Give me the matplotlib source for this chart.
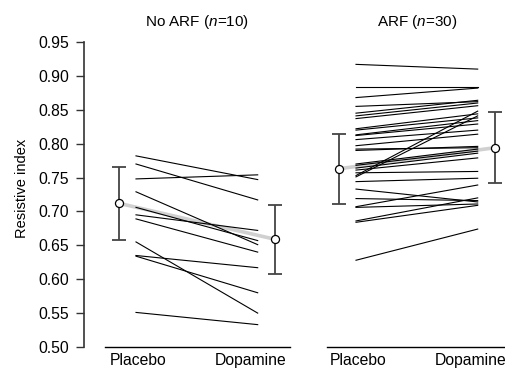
import numpy as np
import matplotlib
matplotlib.use("Agg")
from matplotlib import pyplot as plt

plt.rcParams['font.family'] = ['Liberation Sans', 'DejaVu Sans']
plt.rcParams['mathtext.fontset'] = 'custom'
plt.rcParams['mathtext.rm'] = 'Liberation Sans'
plt.rcParams['mathtext.it'] = 'Liberation Sans:italic'

conditions = ['Placebo', 'Dopamine']
titles = ['No ARF ($n$=10)', 'ARF ($n$=30)']

# individual patients, placebo -> dopamine
noarf_placebo = [0.782, 0.770, 0.748, 0.729, 0.706, 0.695, 0.689, 0.655, 0.635, 0.634, 0.551]
noarf_dopamine = [0.747, 0.717, 0.754, 0.651, 0.657, 0.672, 0.640, 0.550, 0.617, 0.580, 0.533]

arf_placebo = [0.917, 0.883, 0.868, 0.855, 0.845, 0.841, 0.837, 0.822, 0.820, 0.813,
               0.812, 0.806, 0.797, 0.792, 0.790, 0.770, 0.768, 0.764, 0.761, 0.757,
               0.753, 0.751, 0.744, 0.733, 0.719, 0.707, 0.706, 0.686, 0.684, 0.628]
arf_dopamine = [0.910, 0.883, 0.882, 0.862, 0.864, 0.860, 0.856, 0.844, 0.838, 0.834,
                0.829, 0.820, 0.814, 0.794, 0.796, 0.792, 0.789, 0.786, 0.779, 0.759,
                0.848, 0.841, 0.749, 0.714, 0.716, 0.739, 0.711, 0.720, 0.709, 0.674]

# group mean +/- sd
noarf_mean = [0.712, 0.659]
noarf_sd = [0.054, 0.051]
arf_mean = [0.763, 0.794]
arf_sd = [0.052, 0.052]

W, H = 506, 370
fig = plt.figure(figsize=(W / 100, H / 100), dpi=100)

scale = 121.7  # px per x unit
y_bot, y_top = 347, 42
panels = [
    dict(x0=136, left=84.3, right=290, spine_start=-0.255,
         pre=noarf_placebo, post=noarf_dopamine, m=noarf_mean, s=noarf_sd, yaxis=True),
    dict(x0=356, left=326.8, right=506, spine_start=-0.24,
         pre=arf_placebo, post=arf_dopamine, m=arf_mean, s=arf_sd, yaxis=False),
]

for i, p in enumerate(panels):
    ax = fig.add_axes([p['left'] / W, (H - y_bot) / H,
                       (p['right'] - p['left']) / W, (y_bot - y_top) / H])
    xl = (p['left'] - p['x0']) / scale
    xr = (p['right'] - p['x0']) / scale
    ax.set_xlim(xl, xr)
    ax.set_ylim(0.50, 0.95)

    ex = [-0.14, 1.14]
    ax.plot(ex, p['m'], color='#d0d0d0', lw=2.6, zorder=1, solid_capstyle='butt')
    for a, b in zip(p['pre'], p['post']):
        ax.plot([0, 1], [a, b], color='black', lw=0.8, zorder=2)
    ax.errorbar(ex, p['m'], yerr=p['s'], fmt='none', ecolor='#444444',
                elinewidth=1.3, capsize=5, capthick=1.3, zorder=3)
    ax.plot(ex, p['m'], 'o', ms=5.8, mfc='white', mec='black', mew=0.9, zorder=4)

    ax.set_xticks([0.02, 0.94])
    ax.set_xticklabels(conditions, fontsize=11.3)
    ax.tick_params(axis='x', length=0, pad=4)
    for sp in ['top', 'right']:
        ax.spines[sp].set_visible(False)
    ax.spines['bottom'].set_bounds(p['spine_start'], xr)
    ax.spines['bottom'].set_linewidth(1.0)

    if p['yaxis']:
        yt = np.arange(0.50, 0.951, 0.05)
        ax.set_yticks(yt)
        ax.set_yticklabels(['%.2f' % v for v in yt], fontsize=11.3)
        ax.tick_params(axis='y', length=6, width=1.0, color='#333333', pad=5)
        ax.spines['left'].set_color('#333333')
        ax.spines['left'].set_linewidth(1.2)
        ax.set_ylabel('Resistive index', fontsize=10.5)
        ax.yaxis.set_label_coords(-0.27, 0.52)
    else:
        ax.spines['left'].set_visible(False)
        ax.set_yticks([])

    ax.text(0.5, 0.95 + 20 / (y_bot - y_top) * 0.45, titles[i], ha='center', va='center',
            fontsize=11, transform=ax.transData, clip_on=False)

fig.savefig('out.png', dpi=100)
